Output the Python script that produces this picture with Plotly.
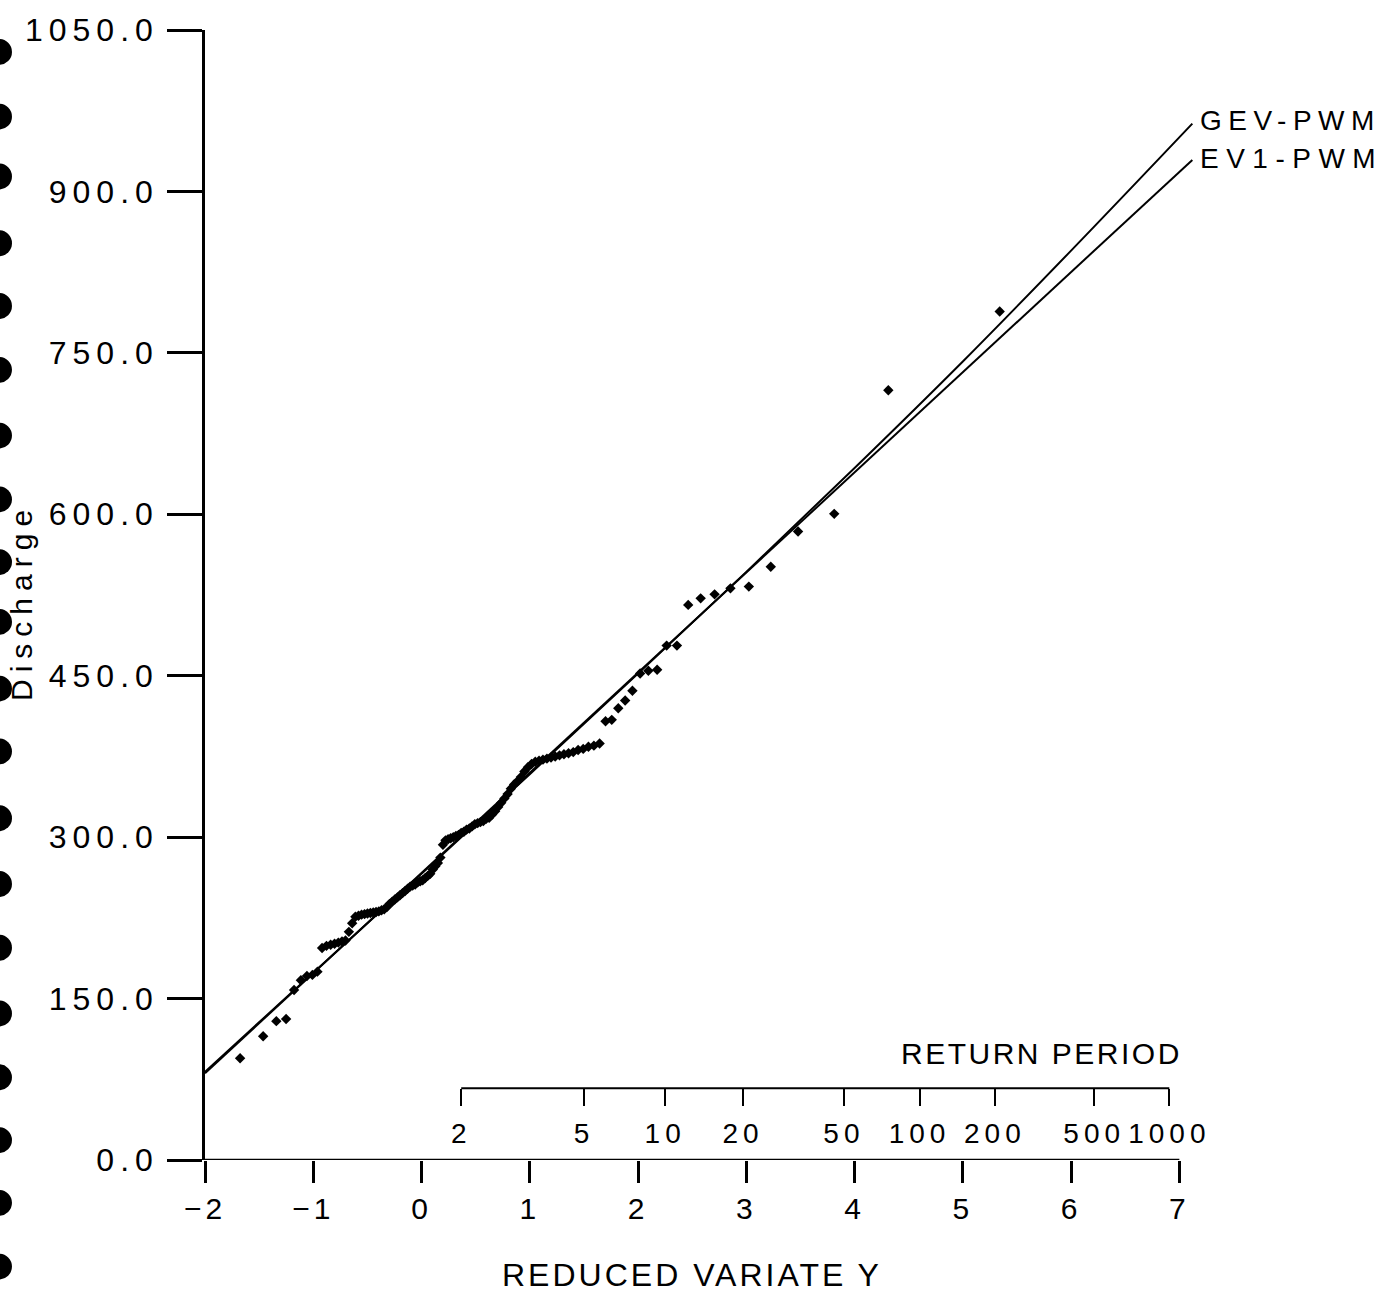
import numpy as np
import plotly.graph_objects as go

# ---------------- data ----------------
# Observed annual maximum discharges, sorted ascending (117 values)
discharge = [
    94.5, 115, 129, 131, 158, 167, 171, 172, 175, 197,
    199, 200, 201, 202, 203, 204, 212, 220, 226, 227,
    228, 228.5, 229, 229.5, 230, 230.5, 231, 232, 233, 235,
    238, 240, 242, 244, 246, 248, 250, 252, 254, 255,
    256, 258, 259, 260, 262, 264, 266, 270, 273, 276,
    281, 293, 297, 298, 299, 300, 301, 302, 304, 305,
    307, 308, 310, 312, 313, 314, 315, 317, 318, 321,
    324, 328, 332, 336, 340, 345, 349, 352, 356, 361,
    365, 368, 370, 371, 372, 373, 374, 375, 376, 377,
    378, 379, 381, 382, 384, 385, 387, 407.7, 409, 419.7,
    427, 436, 452, 454.6, 455.5, 478, 478, 515.8, 521.9, 525.6,
    531.2, 532.8, 551.3, 584, 600.4, 715.3, 788.4,
]

# Fitted distribution lines (reduced variate, discharge)
gev_y = [-2, -1, 0, 1, 2, 3, 4, 5, 6, 7.12]
gev_q = [82, 174, 266, 358.5, 452, 546.5, 643, 742, 845, 963]
ev1_y = [-2, 7.12]
ev1_q = [80.6, 929.3]

x_tick_values = [-2, -1, 0, 1, 2, 3, 4, 5, 6, 7]
x_tick_labels = ["\u22122", "\u22121", "0", "1", "2", "3", "4", "5", "6", "7"]
y_tick_values = [0, 150, 300, 450, 600, 750, 900, 1050]
y_tick_labels = ["0.0", "150.0", "300.0", "450.0", "600.0", "750.0", "900.0", "1050.0"]
return_periods = [2, 5, 10, 20, 50, 100, 200, 500, 1000]
return_period_labels = ["2", "5", "10", "20", "50", "100", "200", "500", "1000"]

# ---------------- derived plotting positions ----------------
n = len(discharge)
rank = np.arange(1, n + 1)
prob = (rank - 0.44) / (n + 0.12)            # Gringorten plotting position
reduced_variate = -np.log(-np.log(prob))      # Gumbel reduced variate
rp_arr = np.array(return_periods, dtype=float)
rp_pos = -np.log(-np.log(1 - 1 / rp_arr))

FONT = "Liberation Sans"


def sp(text, ls):
    return f'<span style="letter-spacing:{ls}px">{text}</span>'


# ---------------- geometry (pixels) ----------------
W, H = 1398, 1292
L, T_, B = 205, 26, 132
XMIN, XMAX = -2, 7.2
PX_PER_UNIT = 108.25
plot_w = (XMAX - XMIN) * PX_PER_UNIT
R = W - L - plot_w
plot_h = H - T_ - B


def paper_x(px):
    return (px - L) / plot_w


def paper_y(py):
    return (H - B - py) / plot_h


fig = go.Figure()

fig.add_trace(go.Scatter(
    x=gev_y, y=gev_q, mode="lines", line=dict(color="black", width=2, shape="spline"),
    name="GEV-PWM", showlegend=False, hoverinfo="skip"))
fig.add_trace(go.Scatter(
    x=ev1_y, y=ev1_q, mode="lines", line=dict(color="black", width=2),
    name="EV1-PWM", showlegend=False, hoverinfo="skip"))
fig.add_trace(go.Scatter(
    x=reduced_variate, y=discharge, mode="markers",
    marker=dict(symbol="diamond", size=8, color="black"),
    name="Observed", showlegend=False))

# invisible trace to carry the return-period axis
fig.add_trace(go.Scatter(x=[XMIN, XMAX], y=[0, 0], xaxis="x2", mode="markers",
                         marker=dict(opacity=0), showlegend=False, hoverinfo="skip"))

rp_axis_q = 66.7  # discharge level of the return-period axis line

fig.update_layout(
    width=W, height=H, autosize=False,
    margin=dict(l=L, r=R, t=T_, b=B),
    paper_bgcolor="white", plot_bgcolor="white",
    font=dict(family=FONT, color="black"),
    xaxis=dict(
        range=[XMIN, XMAX], showgrid=False, zeroline=False, showline=False,
        tickmode="array", tickvals=x_tick_values,
        ticktext=[sp(t, 4) for t in x_tick_labels],
        ticks="outside", ticklen=22, tickwidth=2.5, tickcolor="black",
        tickfont=dict(family=FONT, size=30, color="black"), tickangle=0,
        ticklabelstandoff=0,
    ),
    xaxis2=dict(
        range=[XMIN, XMAX], overlaying="x", anchor="free", side="bottom",
        position=paper_y(1088), showgrid=False, zeroline=False, showline=False,
        tickmode="array", tickvals=list(rp_pos),
        ticktext=[sp(t, 5) for t in return_period_labels],
        ticks="outside", ticklen=17, tickwidth=2, tickcolor="black",
        tickfont=dict(family=FONT, size=28, color="black"), tickangle=0,
        ticklabelstandoff=3,
    ),
    yaxis=dict(
        range=[0, 1050], showgrid=False, zeroline=False,
        showline=True, linecolor="black", linewidth=2.5,
        tickmode="array", tickvals=y_tick_values,
        ticktext=[sp(t, 6) for t in y_tick_labels],
        ticks="outside", ticklen=35, tickwidth=2.5, tickcolor="black",
        tickfont=dict(family=FONT, size=32, color="black"),
        ticklabelstandoff=2,
    ),
    shapes=[
        dict(type="line", xref="x", yref="y", x0=-2, x1=7, y0=0, y1=0,
             line=dict(color="black", width=2.5)),
        dict(type="line", xref="x", yref="y", x0=float(rp_pos[0]), x1=float(rp_pos[-1]),
             y0=rp_axis_q, y1=rp_axis_q, line=dict(color="black", width=2)),
    ],
)

# binder-hole marks along the left edge of the scanned sheet
hole_rows = [48, 113, 173, 240, 303, 367, 433, 497, 560, 620, 687, 750, 817,
             883, 947, 1013, 1077, 1140, 1203, 1267]
for py in hole_rows:
    r = 13
    fig.add_shape(type="circle", xref="paper", yref="paper",
                  x0=paper_x(-r - 1), x1=paper_x(r - 1),
                  y0=paper_y(py + r), y1=paper_y(py - r),
                  fillcolor="black", line=dict(color="black", width=0))

annotations = [
    dict(text=sp("GEV-PWM", 6.5), x=paper_x(1198), y=paper_y(117), xanchor="left",
         font=dict(size=28)),
    dict(text=sp("EV1-PWM", 7.5), x=paper_x(1198), y=paper_y(155), xanchor="left",
         font=dict(size=28)),
    dict(text=sp("RETURN PERIOD", 2.5), x=paper_x(1184), y=paper_y(1053), xanchor="right",
         font=dict(size=30)),
    dict(text=sp("REDUCED VARIATE Y", 3), x=paper_x(692), y=paper_y(1275), xanchor="center",
         font=dict(size=32)),
    dict(text=sp("Discharge", 7), x=paper_x(22), y=paper_y(600), xanchor="center",
         yanchor="middle", textangle=-90, font=dict(size=30)),
]
for a in annotations:
    a.update(xref="paper", yref="paper", showarrow=False, yanchor=a.get("yanchor", "middle"))
    a["font"].update(family=FONT, color="black")
    fig.add_annotation(**a)

fig.write_html("out.html")
